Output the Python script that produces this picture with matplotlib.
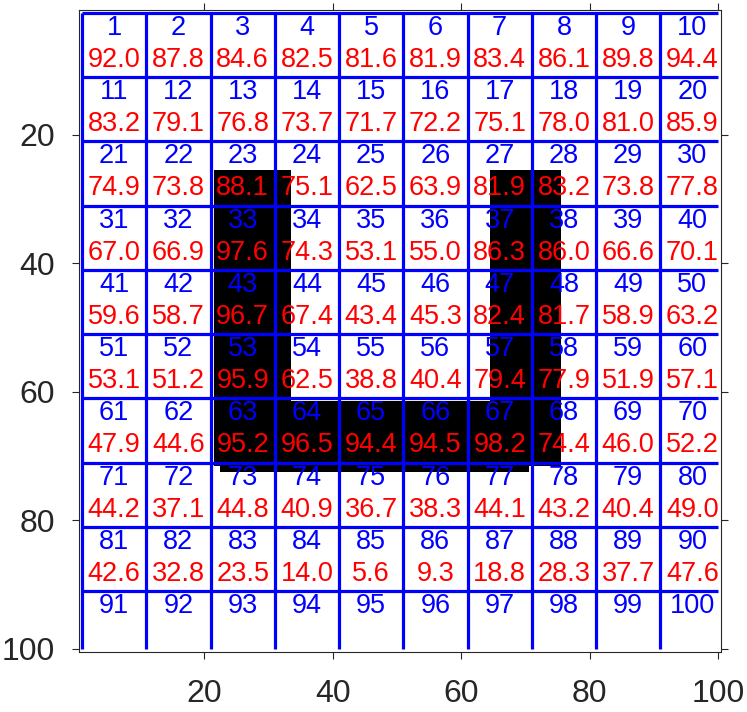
import numpy as np
import matplotlib
matplotlib.use("Agg")
import matplotlib.pyplot as plt

# =====================================
# data
# =====================================
N = 100          # image size (pixels)
CELL = 10        # grid cell size
CELL_IDS = list(range(1, 101))
PERCENT = [
    [92.0, 87.8, 84.6, 82.5, 81.6, 81.9, 83.4, 86.1, 89.8, 94.4],
    [83.2, 79.1, 76.8, 73.7, 71.7, 72.2, 75.1, 78.0, 81.0, 85.9],
    [74.9, 73.8, 88.1, 75.1, 62.5, 63.9, 81.9, 83.2, 73.8, 77.8],
    [67.0, 66.9, 97.6, 74.3, 53.1, 55.0, 86.3, 86.0, 66.6, 70.1],
    [59.6, 58.7, 96.7, 67.4, 43.4, 45.3, 82.4, 81.7, 58.9, 63.2],
    [53.1, 51.2, 95.9, 62.5, 38.8, 40.4, 79.4, 77.9, 51.9, 57.1],
    [47.9, 44.6, 95.2, 96.5, 94.4, 94.5, 98.2, 74.4, 46.0, 52.2],
    [44.2, 37.1, 44.8, 40.9, 36.7, 38.3, 44.1, 43.2, 40.4, 49.0],
    [42.6, 32.8, 23.5, 14.0, 5.6, 9.3, 18.8, 28.3, 37.7, 47.6],
]
# black U shape: (row_from, row_to, col_from, col_to), 1-based inclusive
SHAPE_BLOCKS = [
    (26, 71, 22, 22),
    (26, 72, 23, 33),
    (62, 72, 34, 70),
    (26, 71, 65, 75),
]
TICKS = [20, 40, 60, 80, 100]

# =====================================
img = np.ones((N, N))
for r0, r1, c0, c1 in SHAPE_BLOCKS:
    img[r0 - 1:r1, c0 - 1:c1] = 0

plt.rcParams['font.family'] = ['Liberation Sans', 'DejaVu Sans']
fig = plt.figure(figsize=(7.47, 7.12), dpi=100)
ax = fig.add_axes([0.1052, 0.084, 0.8608, 0.9024])
ax.imshow(img, cmap="gray", vmin=0, vmax=1, interpolation="nearest",
          extent=(0.5, N + 0.5, N + 0.5, 0.5))

BLUE = (0, 0, 1)
RED = (1, 0, 0)
lines = np.arange(1, N, CELL)
for p in lines:
    ax.plot([p, p], [1, N], color=BLUE, lw=2.3, solid_capstyle="butt")
    ax.plot([1, N], [p, p], color=BLUE, lw=2.3, solid_capstyle="butt")

for i, cid in enumerate(CELL_IDS):
    r, c = divmod(i, 10)
    xc = 6 + CELL * c
    ax.text(xc, 3.35 + CELL * r, str(cid), color=BLUE, fontsize=19.5,
            ha="center", va="center")
    if r < len(PERCENT):
        ax.text(xc, 8.3 + CELL * r, f"{PERCENT[r][c]:.1f}", color=RED,
                fontsize=19.5, ha="center", va="center")

ax.set_xlim(0.5, N + 0.5)
ax.set_ylim(N + 0.5, 0.5)
ax.set_xticks(TICKS)
ax.set_yticks(TICKS)
ax.tick_params(direction="out", length=5, width=0.8, colors="#262626",
               labelsize=23, top=True, right=True)
ax.tick_params(axis="x", pad=14)
ax.tick_params(axis="y", pad=12)
for s in ax.spines.values():
    s.set_color("#262626")
    s.set_linewidth(0.8)

fig.savefig("out.png", dpi=100)
